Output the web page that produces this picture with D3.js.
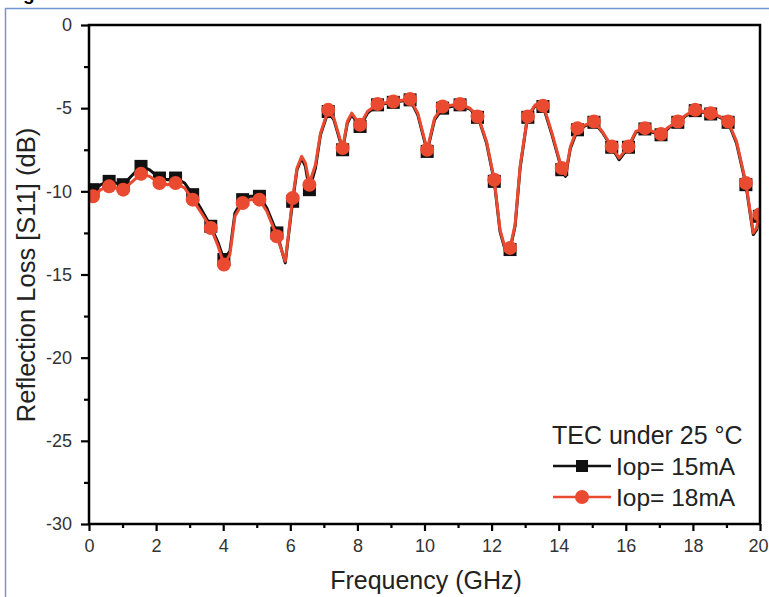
<!DOCTYPE html>
<html>
<head>
<meta charset="utf-8">
<script src="https://cdn.jsdelivr.net/npm/d3@7"></script>
<style>
  html, body { margin: 0; padding: 0; background: #fff; }
  svg { display: block; }
</style>
</head>
<body>
<svg id="chart" width="769" height="597"></svg>
<script>
// ---- data ----
const xTicks = [0, 2, 4, 6, 8, 10, 12, 14, 16, 18, 20];
const yTicks = [0, -5, -10, -15, -20, -25, -30];
const legendTitle = "TEC under 25 \u00B0C";
const seriesNames = ["Iop= 15mA", "Iop= 18mA"];

// line traces (frequency GHz, S11 dB)
const lineFreq15 = [0.0,0.13,0.35,0.6,0.8,1.02,1.3,1.55,1.8,2.1,2.35,2.58,2.85,3.09,3.35,3.63,3.85,4.02,4.2,4.35,4.58,4.8,5.08,5.3,5.6,5.75,5.85,5.95,6.07,6.2,6.34,6.45,6.57,6.75,6.9,7.13,7.3,7.56,7.7,7.83,8.08,8.3,8.6,9.07,9.57,9.8,10.08,10.3,10.54,11.06,11.35,11.6,11.85,12.08,12.25,12.4,12.55,12.7,12.85,13.07,13.3,13.54,13.8,14.09,14.2,14.35,14.56,14.8,15.05,15.3,15.58,15.8,16.08,16.3,16.57,16.8,17.05,17.3,17.55,17.8,18.07,18.3,18.53,18.8,19.05,19.3,19.58,19.8,19.9,20.0];
const lineVal15 = [-10.1,-9.9,-9.6,-9.4,-9.5,-9.6,-9.0,-8.5,-8.7,-9.2,-9.3,-9.2,-9.5,-10.2,-11.1,-12.1,-13.1,-14.1,-13.6,-11.3,-10.5,-10.3,-10.3,-11.0,-12.5,-13.6,-14.3,-12.6,-10.6,-8.7,-8.0,-8.5,-9.9,-8.6,-6.6,-5.2,-5.7,-7.5,-5.9,-5.4,-6.1,-5.3,-4.8,-4.65,-4.5,-5.4,-7.6,-5.7,-5.0,-4.8,-5.05,-5.55,-7.1,-9.4,-12.4,-13.5,-13.5,-12.1,-8.6,-5.55,-4.85,-4.9,-6.6,-8.7,-9.1,-7.4,-6.3,-6.05,-5.85,-6.45,-7.35,-8.1,-7.35,-6.45,-6.25,-6.45,-6.6,-6.15,-5.85,-5.45,-5.15,-5.25,-5.35,-5.55,-5.85,-7.1,-9.6,-12.6,-12.3,-11.3];

const lineFreq18 = [0.0,0.13,0.35,0.6,0.8,1.02,1.3,1.55,1.8,2.1,2.35,2.58,2.85,3.09,3.35,3.63,3.85,4.02,4.2,4.35,4.58,4.8,5.08,5.3,5.6,5.75,5.85,5.95,6.07,6.2,6.34,6.45,6.57,6.75,6.9,7.13,7.3,7.56,7.7,7.83,8.08,8.3,8.6,9.07,9.57,9.8,10.08,10.3,10.54,11.06,11.35,11.6,11.85,12.08,12.25,12.4,12.55,12.7,12.85,13.07,13.3,13.54,13.8,14.09,14.2,14.35,14.56,14.8,15.05,15.3,15.58,15.8,16.08,16.3,16.57,16.8,17.05,17.3,17.55,17.8,18.07,18.3,18.53,18.8,19.05,19.3,19.58,19.8,19.9,20.0];
const lineVal18 = [-10.5,-10.3,-9.9,-9.7,-9.8,-9.9,-9.4,-8.95,-9.1,-9.5,-9.6,-9.5,-9.8,-10.5,-11.3,-12.2,-13.3,-14.4,-13.8,-11.5,-10.7,-10.5,-10.5,-11.2,-12.7,-13.6,-14.2,-12.5,-10.4,-8.6,-7.9,-8.3,-9.5,-8.4,-6.5,-5.1,-5.6,-7.4,-5.8,-5.3,-6.0,-5.2,-4.75,-4.6,-4.45,-5.3,-7.5,-5.6,-4.9,-4.75,-5.0,-5.5,-7.0,-9.3,-12.3,-13.4,-13.4,-12.0,-8.5,-5.5,-4.8,-4.8,-6.5,-8.6,-9.0,-7.3,-6.2,-6.0,-5.8,-6.4,-7.3,-8.0,-7.3,-6.4,-6.2,-6.4,-6.5,-6.1,-5.8,-5.4,-5.1,-5.2,-5.3,-5.5,-5.8,-7.0,-9.5,-12.5,-12.2,-11.2];

// marker points
const markFreq = [0.12,0.6,1.02,1.55,2.1,2.58,3.09,3.63,4.02,4.58,5.08,5.6,6.07,6.57,7.13,7.56,8.08,8.6,9.07,9.57,10.08,10.54,11.06,11.58,12.08,12.55,13.08,13.53,14.09,14.56,15.05,15.58,16.08,16.57,17.05,17.55,18.07,18.53,19.05,19.58,19.98];
const markVal15 = [-9.9,-9.4,-9.6,-8.5,-9.2,-9.2,-10.2,-12.1,-14.1,-10.5,-10.3,-12.5,-10.6,-9.9,-5.2,-7.5,-6.1,-4.8,-4.65,-4.5,-7.6,-5.0,-4.8,-5.55,-9.4,-13.5,-5.55,-4.9,-8.7,-6.3,-5.85,-7.35,-7.35,-6.25,-6.6,-5.85,-5.15,-5.35,-5.85,-9.6,-11.5];
const markVal18 = [-10.3,-9.7,-9.9,-8.95,-9.5,-9.5,-10.5,-12.2,-14.4,-10.7,-10.5,-12.7,-10.4,-9.6,-5.1,-7.4,-6.0,-4.75,-4.6,-4.45,-7.5,-4.9,-4.75,-5.5,-9.3,-13.4,-5.5,-4.85,-8.6,-6.2,-5.8,-7.3,-7.3,-6.2,-6.55,-5.8,-5.1,-5.3,-5.8,-9.5,-11.4];

// ---- layout ----
const svg = d3.select("#chart");
const L = 89, R = 760, T = 25, B = 524;
const x = d3.scaleLinear().domain([0, 20]).range([L, R]);
const y = d3.scaleLinear().domain([-30, 0]).range([B, T]);
const RED = "#ea4a30", BLACK = "#111";
const FONT = "'Liberation Sans', Arial, sans-serif";

// blue figure frame & caption mostly cut off at the top (as in the source)
svg.append("text").attr("x", 6).attr("y", 0).attr("font-family", FONT)
  .attr("font-weight", "bold").attr("font-size", 19).attr("fill", "#000").text("Figure 3");
svg.append("path").attr("d", "M5.5,597 V8.5 H769").attr("fill", "none")
  .attr("stroke", "#6f97d3").attr("stroke-width", 1.5);

// clip for data
svg.append("clipPath").attr("id", "clip").append("rect")
  .attr("x", L).attr("y", T - 10).attr("width", R - L).attr("height", B - T + 10);

const g = svg.append("g").attr("clip-path", "url(#clip)");
const line = d3.line().x(d => x(d[0])).y(d => y(d[1])).curve(d3.curveLinear);

const d15 = lineFreq15.map((f, i) => [f, lineVal15[i]]);
const d18 = lineFreq18.map((f, i) => [f, lineVal18[i]]);
const m15 = markFreq.map((f, i) => [f, markVal15[i]]);
const m18 = markFreq.map((f, i) => [f, markVal18[i]]);

g.append("path").datum(d15).attr("d", line).attr("fill", "none")
  .attr("stroke", BLACK).attr("stroke-width", 3).attr("stroke-linejoin", "round");
g.selectAll("rect.m15").data(m15).join("rect").attr("class", "m15")
  .attr("x", d => x(d[0]) - 6.5).attr("y", d => y(d[1]) - 6.5)
  .attr("width", 13).attr("height", 13).attr("fill", BLACK);

g.append("path").datum(d18).attr("d", line).attr("fill", "none")
  .attr("stroke", RED).attr("stroke-width", 3).attr("stroke-linejoin", "round");
g.selectAll("circle.m18").data(m18).join("circle").attr("class", "m18")
  .attr("cx", d => x(d[0])).attr("cy", d => y(d[1])).attr("r", 7).attr("fill", RED);

// axes
const fmt = d => String(d);
const xAxis = d3.axisBottom(x).tickValues(xTicks).tickSize(7).tickPadding(8).tickFormat(fmt);
const xMinor = d3.axisBottom(x).tickValues(d3.range(1, 20, 2)).tickSize(4).tickFormat("");
const yAxis = d3.axisLeft(y).tickValues(yTicks).tickSize(8).tickPadding(9).tickFormat(fmt);
const yMinor = d3.axisLeft(y).tickValues(d3.range(-27.5, 0, 5)).tickSize(5).tickFormat("");

function styleAxis(sel) {
  sel.select(".domain").remove();
  sel.selectAll("line").attr("stroke", "#000").attr("stroke-width", 2.2);
  sel.selectAll("text").attr("font-family", FONT).attr("font-size", 18).attr("fill", "#333");
}
const gx = svg.append("g").attr("transform", `translate(0,${B})`).call(xAxis).call(styleAxis);
// keep the last label inside the picture edge
gx.selectAll(".tick").filter(d => d === 20).select("text")
  .attr("text-anchor", "end").attr("x", 768 - x(20));
svg.append("g").attr("transform", `translate(0,${B})`).call(xMinor).call(styleAxis);
svg.append("g").attr("transform", `translate(${L},0)`).call(yAxis).call(styleAxis);
svg.append("g").attr("transform", `translate(${L},0)`).call(yMinor).call(styleAxis);

// frame
svg.append("rect").attr("x", L).attr("y", T).attr("width", R - L).attr("height", B - T)
  .attr("fill", "none").attr("stroke", "#000").attr("stroke-width", 2.5);

// axis titles
svg.append("text").attr("x", 426).attr("y", 589).attr("text-anchor", "middle")
  .attr("font-family", FONT).attr("font-size", 25).attr("fill", "#222").text("Frequency (GHz)");
svg.append("text").attr("transform", `translate(35,275) rotate(-90)`)
  .attr("text-anchor", "middle").attr("font-family", FONT).attr("font-size", 25.5)
  .attr("fill", "#222").text("Reflection Loss [S11] (dB)");

// legend
const lg = svg.append("g");
lg.append("text").attr("x", 552).attr("y", 444).attr("font-family", FONT)
  .attr("font-size", 25).attr("fill", "#222").text(legendTitle);
const legendRows = [
  { name: seriesNames[0], color: BLACK, shape: "square", yy: 466 },
  { name: seriesNames[1], color: RED, shape: "circle", yy: 497 }
];
legendRows.forEach(r => {
  lg.append("line").attr("x1", 553).attr("x2", 611).attr("y1", r.yy).attr("y2", r.yy)
    .attr("stroke", r.color).attr("stroke-width", 2.5);
  if (r.shape === "square") {
    lg.append("rect").attr("x", 576).attr("y", r.yy - 6).attr("width", 12).attr("height", 12).attr("fill", r.color);
  } else {
    lg.append("circle").attr("cx", 582).attr("cy", r.yy).attr("r", 7).attr("fill", r.color);
  }
  lg.append("text").attr("x", 616).attr("y", r.yy + 9).attr("font-family", FONT)
    .attr("font-size", 24.5).attr("fill", "#222").text(r.name);
});
</script>
</body>
</html>
